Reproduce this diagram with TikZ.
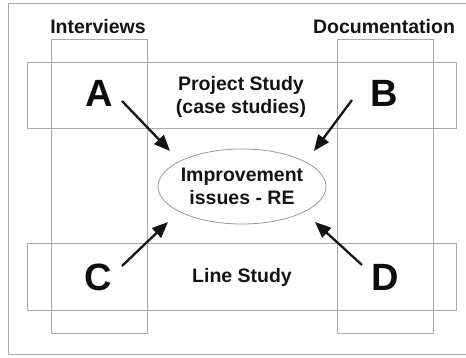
\documentclass[tikz,border=0pt]{standalone}
\usepackage{fontspec}
\setmainfont{Liberation Sans}
\usetikzlibrary{shapes.geometric,arrows.meta}
\begin{document}
\begin{tikzpicture}[x=1pt,y=-1pt,
  box/.style={draw=black!33,line width=0.8pt},
  lbl/.style={font=\fontsize{19.5}{23}\selectfont\bfseries,align=center,inner sep=0pt,text=black!92},
  letter/.style={font=\fontsize{38}{40}\selectfont\bfseries,inner sep=0pt,text=black!95},
  arr/.style={line width=2.3pt,black!92,-{Triangle[length=16pt,width=13pt]}}]
\useasboundingbox (0,0) rectangle (466,357);
\begin{scope}
\clip (0,0) rectangle (466,357);
\draw[box] (8,3) rectangle (480,354.5);
\end{scope}
\draw[box] (51,39) rectangle (147,333);
\draw[box] (337,39) rectangle (433,333);
\draw[box] (27,62) rectangle (456,128);
\draw[box] (27,243) rectangle (456,310);
\node[ellipse,draw=black!40,line width=0.8pt,minimum width=168pt,minimum height=75pt,inner sep=0pt] (imp) at (242,186.5) {};
\node[lbl] (impt) at (242,186.5) {Improvement\\issues - RE};
\node[lbl] (int) at (98,27) {Interviews};
\node[lbl] (doc) at (384,27) {Documentation};
\node[lbl] (ps) at (241,96.5) {Project Study\\(case studies)};
\node[lbl] (ls) at (242,277) {Line Study};
\node[letter] (A) at (99,93) {A};
\node[letter] (B) at (384,93) {B};
\node[letter] (C) at (98,277) {C};
\node[letter] (D) at (385,277) {D};
\coordinate (a1) at (122,101); \coordinate (a2) at (170,151);
\coordinate (b1) at (352,100); \coordinate (b2) at (314,151);
\coordinate (c1) at (122,266); \coordinate (c2) at (168,222);
\coordinate (d1) at (362,265); \coordinate (d2) at (315,222);
\draw[arr] (a1) -- (a2);
\draw[arr] (b1) -- (b2);
\draw[arr] (c1) -- (c2);
\draw[arr] (d1) -- (d2);
\end{tikzpicture}
\end{document}
